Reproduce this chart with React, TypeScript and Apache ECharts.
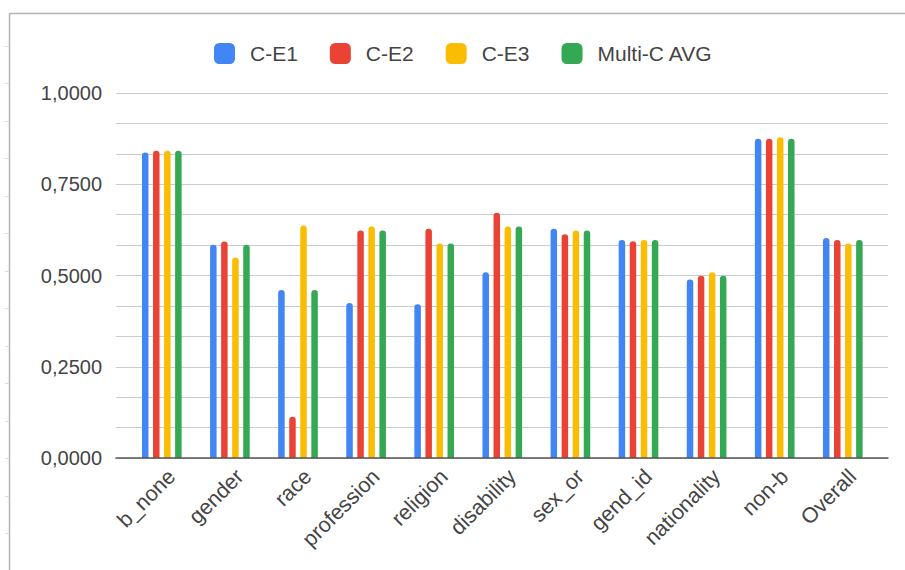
import React, { useEffect, useRef } from "react";
import * as echarts from "echarts";

const categories = [
  "b_none",
  "gender",
  "race",
  "profession",
  "religion",
  "disability",
  "sex_or",
  "gend_id",
  "nationality",
  "non-b",
  "Overall",
];

const seriesNames = ["C-E1", "C-E2", "C-E3", "Multi-C AVG"];
const seriesColors = ["#4285F4", "#EA4335", "#FBBC04", "#34A853"];

const ce1 = [0.837, 0.584, 0.46, 0.425, 0.421, 0.509, 0.628, 0.597, 0.489, 0.875, 0.603];
const ce2 = [0.842, 0.593, 0.113, 0.623, 0.628, 0.672, 0.613, 0.594, 0.499, 0.875, 0.597];
const ce3 = [0.842, 0.549, 0.637, 0.634, 0.588, 0.634, 0.623, 0.597, 0.509, 0.879, 0.588];
const multiAvg = [0.842, 0.584, 0.46, 0.623, 0.588, 0.634, 0.623, 0.597, 0.499, 0.875, 0.597];

const seriesValues = [ce1, ce2, ce3, multiAvg];

const FONT = "'Liberation Sans', Arial, Helvetica, sans-serif";
const TEXT_COLOR = "#444444";
const GRID_COLOR = "#cccccc";

export default function App() {
  const ref = useRef<HTMLDivElement>(null);

  useEffect(() => {
    if (!ref.current) return;
    const chart = echarts.init(ref.current, undefined, { renderer: "svg" });

    // faint spreadsheet row marks beside the chart frame
    const rowMarks: any[] = [];
    for (let y = 45.5; y < 570; y += 37.5) {
      rowMarks.push({
        type: "line",
        shape: { x1: 5, y1: Math.round(y) + 0.5, x2: 9, y2: Math.round(y) + 0.5 },
        style: { stroke: "#dddddd", lineWidth: 1 },
        silent: true,
      });
    }

    chart.setOption({
      animation: false,
      backgroundColor: "#ffffff",
      textStyle: { fontFamily: FONT },
      graphic: [
        {
          type: "rect",
          shape: { x: 9.5, y: 13.5, width: 1200, height: 1200 },
          style: { fill: "none", stroke: "#b4b4b4", lineWidth: 1.5 },
          silent: true,
          z: -10,
        },
        ...rowMarks,
      ],
      legend: {
        data: seriesNames,
        left: 214,
        top: 43,
        padding: 0,
        itemWidth: 21,
        itemHeight: 21,
        itemGap: 32,
        icon: "roundRect",
        textStyle: {
          fontSize: 21,
          color: TEXT_COLOR,
          fontFamily: FONT,
          padding: [0, 0, 0, 10],
        },
      },
      grid: [
        // plot frame: gridlines and baseline
        { left: 116, right: 17, top: 93, bottom: 112 },
        // category band holding the bars
        { left: 127.75, right: 28.15, top: 93, bottom: 112 },
        // category labels, set slightly right of the bar groups
        { left: 137.75, right: 18.15, top: 93, bottom: 112 },
      ],
      xAxis: [
        {
          type: "value",
          gridIndex: 0,
          min: 0,
          max: 1,
          axisLine: { show: true, lineStyle: { color: "#555555", width: 1.5 } },
          axisTick: { show: false },
          axisLabel: { show: false },
          splitLine: { show: false },
          z: 5,
        },
        {
          type: "category",
          gridIndex: 1,
          data: categories,
          axisLine: { show: false },
          axisTick: { show: false },
          axisLabel: { show: false },
        },
        {
          type: "category",
          gridIndex: 2,
          data: categories,
          axisLine: { show: false },
          axisTick: { show: false },
          axisLabel: {
            rotate: 45,
            fontSize: 21.5,
            color: TEXT_COLOR,
            fontFamily: FONT,
            margin: 15,
            interval: 0,
          },
        },
      ],
      yAxis: [
        {
          type: "value",
          gridIndex: 0,
          min: 0,
          max: 1,
          interval: 0.25,
          axisLine: { show: false },
          axisTick: { show: false },
          axisLabel: {
            fontSize: 20,
            color: TEXT_COLOR,
            fontFamily: FONT,
            margin: 14,
            formatter: (v: number) => v.toFixed(4).replace(".", ","),
          },
          splitLine: { show: true, lineStyle: { color: GRID_COLOR, width: 1 } },
          minorTick: { show: false, splitNumber: 3 },
          minorSplitLine: { show: true, lineStyle: { color: GRID_COLOR, width: 1 } },
        },
        {
          type: "value",
          gridIndex: 1,
          min: 0,
          max: 1,
          show: false,
          splitLine: { show: false },
        },
        {
          type: "value",
          gridIndex: 2,
          min: 0,
          max: 1,
          show: false,
          splitLine: { show: false },
        },
      ],
      series: seriesNames.map((name, i) => ({
        name,
        type: "bar",
        xAxisIndex: 1,
        yAxisIndex: 1,
        data: seriesValues[i],
        barWidth: 6.5,
        barGap: "70%",
        itemStyle: { color: seriesColors[i], borderRadius: [3.25, 3.25, 0, 0] },
        z: 3,
      })),
    });

    return () => chart.dispose();
  }, []);

  return (
    <div
      ref={ref}
      style={{ position: "fixed", left: 0, top: 0, width: 905, height: 570 }}
    />
  );
}
